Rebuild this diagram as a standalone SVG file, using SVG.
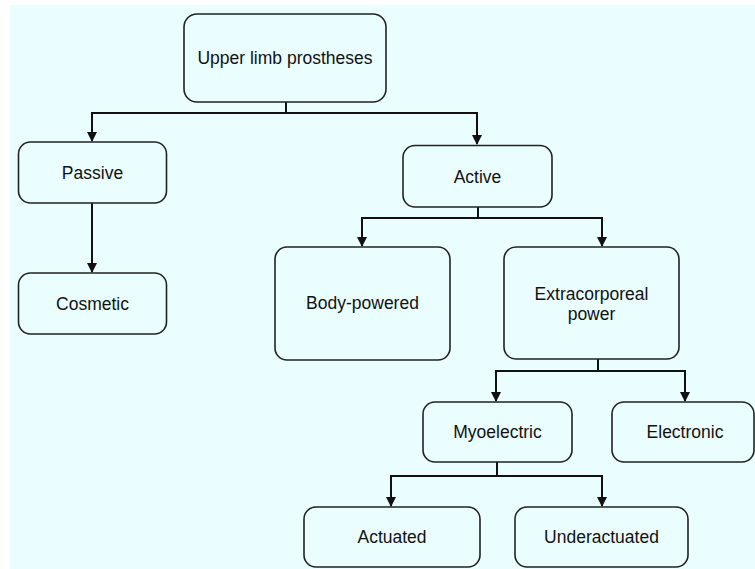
<svg xmlns="http://www.w3.org/2000/svg" width="755" height="569" viewBox="0 0 755 569">
<defs>
<style>
.box{fill:#ebfeff;stroke:#222;stroke-width:1.6}
.lbl{font-family:"Liberation Sans",Arial,sans-serif;font-size:17.5px;fill:#111;text-anchor:middle}
.conn{fill:none;stroke:#111;stroke-width:2}
</style>
<marker id="arr" viewBox="0 0 10 10" refX="9" refY="5" markerWidth="5" markerHeight="5" markerUnits="strokeWidth" orient="auto">
<path d="M0,0 L10,5 L0,10 z" fill="#111"/>
</marker>
</defs>
<rect x="0" y="0" width="755" height="569" fill="#ffffff"/>
<rect x="10" y="5" width="745" height="564" fill="#ebfeff"/>
<g id="connectors">
<path class="conn" d="M286,102 V113" />
<path class="conn" d="M92,113 H477" />
<path class="conn" d="M92,112 V141" marker-end="url(#arr)"/>
<path class="conn" d="M477,112 V144" marker-end="url(#arr)"/>
<path class="conn" d="M92,203 V272" marker-end="url(#arr)"/>
<path class="conn" d="M478,207 V218" />
<path class="conn" d="M362,218 H602" />
<path class="conn" d="M362,217 V246" marker-end="url(#arr)"/>
<path class="conn" d="M602,217 V246" marker-end="url(#arr)"/>
<path class="conn" d="M598,359 V371" />
<path class="conn" d="M496,371 H685" />
<path class="conn" d="M496,370 V401" marker-end="url(#arr)"/>
<path class="conn" d="M685,370 V401" marker-end="url(#arr)"/>
<path class="conn" d="M497,462 V476" />
<path class="conn" d="M391,476 H602" />
<path class="conn" d="M391,475 V506" marker-end="url(#arr)"/>
<path class="conn" d="M602,475 V506" marker-end="url(#arr)"/>
</g>
<g id="upper">
<rect class="box" x="184" y="14" width="202" height="88" rx="13"/>
<text class="lbl" x="285" y="64">Upper limb prostheses</text>
</g>
<g id="passive">
<rect class="box" x="18.5" y="142" width="148" height="61" rx="12"/>
<text class="lbl" x="92.5" y="179">Passive</text>
</g>
<g id="cosmetic">
<rect class="box" x="18.5" y="273" width="148" height="61" rx="12"/>
<text class="lbl" x="92.5" y="310">Cosmetic</text>
</g>
<g id="active">
<rect class="box" x="403" y="145.5" width="149" height="61.5" rx="12"/>
<text class="lbl" x="477.5" y="183">Active</text>
</g>
<g id="body-powered">
<rect class="box" x="275" y="247" width="175" height="113" rx="12"/>
<text class="lbl" x="362.5" y="309">Body-powered</text>
</g>
<g id="extracorporeal">
<rect class="box" x="504" y="247" width="175" height="112" rx="12"/>
<text class="lbl" x="591.5" y="300">Extracorporeal</text>
<text class="lbl" x="591.5" y="320">power</text>
</g>
<g id="myoelectric">
<rect class="box" x="423" y="402" width="149" height="60" rx="12"/>
<text class="lbl" x="497.5" y="438">Myoelectric</text>
</g>
<g id="electronic">
<rect class="box" x="612" y="402" width="142" height="60" rx="12"/>
<text class="lbl" x="685" y="438">Electronic</text>
</g>
<g id="actuated">
<rect class="box" x="304" y="507" width="176" height="60" rx="12"/>
<text class="lbl" x="392" y="543">Actuated</text>
</g>
<g id="underactuated">
<rect class="box" x="515" y="507" width="173" height="60" rx="12"/>
<text class="lbl" x="601.5" y="543">Underactuated</text>
</g>
</svg>
